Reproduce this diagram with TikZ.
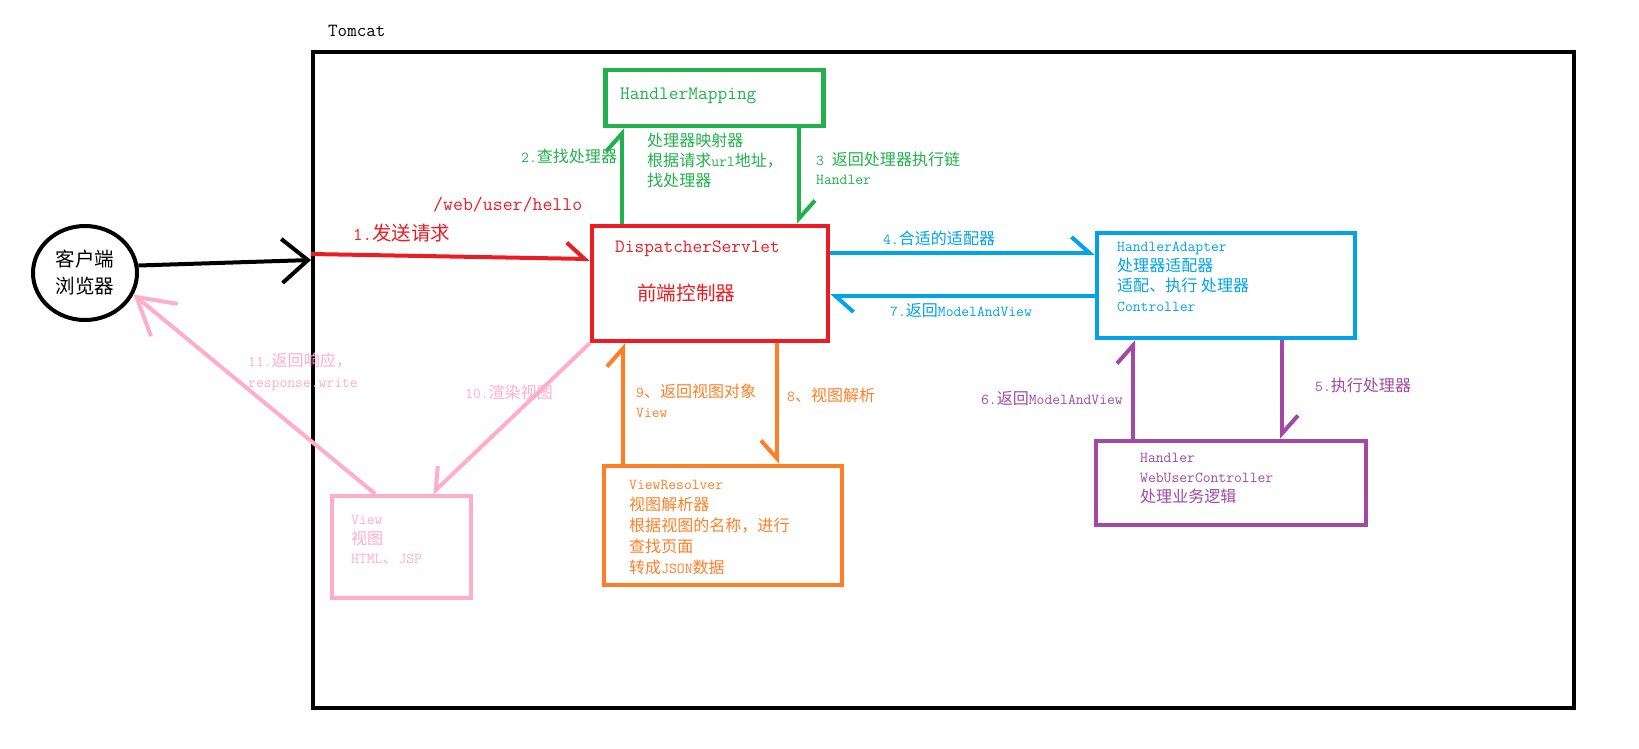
\documentclass[tikz,border=0pt]{standalone}
\usepackage{fontspec}
\newfontfamily\cjk[Scale=1.055]{Noto Sans CJK SC}
\usetikzlibrary{arrows.meta,shapes.geometric}
\newcommand\setfs[2]{\fontsize{#1}{#2}\selectfont}
\definecolor{mred}{HTML}{ED1C24}
\definecolor{mgreen}{HTML}{22B14C}
\definecolor{mblue}{HTML}{00A2E8}
\definecolor{mpurple}{HTML}{A349A4}
\definecolor{morange}{HTML}{FF7F27}
\definecolor{mpink}{HTML}{FFAEC9}
\tikzset{
  box/.style={draw=#1, line width=4.5pt, inner sep=0pt},
  lbl/.style={anchor=west, inner sep=0pt, align=left, text=#1, font=\ttfamily\setfs{15.2}{20}},
  flow/.style={draw=#1, line width=4pt},
  half/.style={-{Straight Barb[harpoon, length=18pt, width=32pt]}},
  halfswap/.style={-{Straight Barb[harpoon, swap, length=18pt, width=32pt]}},
  full/.style={-{Straight Barb[length=#1]}},
}
\begin{document}
\begin{tikzpicture}[x=1pt, y=-1pt]
    \useasboundingbox (0,0) rectangle (1639,748);

    % Tomcat container
    \node[box=black, line width=4pt, minimum width=1261pt, minimum height=656pt] (tomcat) at (943.5,380) {};
    \node[lbl=black, font=\ttfamily\setfs{18.5}{20}] (tomcatlbl) at (328,31) {Tomcat};

    % client
    \node[draw, ellipse, line width=4pt, minimum width=104pt, minimum height=94pt, inner sep=0pt,
          align=center, font=\cjk\setfs{18.5}{27}] (client) at (85,273) {客户端\\浏览器};

    % components
    \node[box=mred, minimum width=236pt, minimum height=115pt] (ds) at (710,283.5) {};
    \node[box=mgreen, minimum width=218pt, minimum height=56pt] (hm) at (714.5,98) {};
    \node[box=mblue, minimum width=258pt, minimum height=105pt] (ha) at (1226,285.5) {};
    \node[box=mpurple, minimum width=270pt, minimum height=84pt] (handler) at (1231,483) {};
    \node[box=morange, minimum width=238pt, minimum height=119pt] (vr) at (723,525.5) {};
    \node[box=mpink, minimum width=139pt, minimum height=102pt] (view) at (401.5,547) {};

    % box texts
    \node[lbl=mred, font=\ttfamily\setfs{18.8}{20}] (dstxt) at (615,249) {DispatcherServlet};
    \node[lbl=mred, font=\cjk\setfs{18.6}{20}] (dszh) at (637,293) {前端控制器};
    \node[lbl=mgreen, font=\ttfamily\setfs{18.9}{20}] (hmtxt) at (620,96) {HandlerMapping};
    \node[lbl=mblue] (hatxt) at (1117,277) {HandlerAdapter\\{\cjk 处理器适配器}\\{\cjk 适配、执行 处理器}\\Controller};
    \node[lbl=mpurple] (htxt) at (1140,478) {Handler\\WebUserController\\{\cjk 处理业务逻辑}};
    \node[lbl=morange, font=\ttfamily\setfs{15.2}{20.8}] (vrtxt) at (629,527.5) {ViewResolver\\{\cjk 视图解析器}\\{\cjk 根据视图的名称，进行}\\{\cjk 查找页面}\\{\cjk 转成}JSON{\cjk 数据}};
    \node[lbl=mpink, font=\ttfamily\setfs{15.2}{19.5}] (viewtxt) at (351,540) {View\\{\cjk 视图}\\HTML{\cjk 、}JSP};

    % request
    \draw[flow=black, full={26pt, width=44pt}] (client.8) -- (tomcat.west |- 0,260);
    \draw[flow=mred, half] (tomcat.west |- 0,254) -- (ds.west |- 0,259);
    \node[lbl=mred, font=\ttfamily\setfs{19.3}{20}] (url) at (433,205) {/web/user/hello};
    \node[lbl=mred, font=\ttfamily\setfs{18.5}{20}] (send) at (353,233) {1.{\cjk 发送请求}};

    % handler mapping
    \draw[flow=mgreen, half] (ds.north -| 622,0) -- (hm.south -| 622,0);
    \draw[flow=mgreen, half] (hm.south -| 799,0) -- (ds.north -| 799,0);
    \node[lbl=mgreen] (find) at (521,156) {2.{\cjk 查找处理器}};
    \node[lbl=mgreen, font=\cjk\setfs{15.2}{20}] (hmnote) at (647,160) {处理器映射器\\根据请求{\ttfamily url}地址，\\找处理器};
    \node[lbl=mgreen, font=\ttfamily\setfs{15.2}{19}] (chain) at (816,168.5) {3 {\cjk 返回处理器执行链}\\Handler};

    % handler adapter
    \draw[flow=mblue, half] (ds.east |- 0,253) -- (ha.west |- 0,253);
    \draw[flow=mblue, half] (ha.west |- 0,296) -- (ds.east |- 0,296);
    \node[lbl=mblue] (adapt) at (883,238) {4.{\cjk 合适的适配器}};
    \node[lbl=mblue] (mav7) at (890,311) {7.{\cjk 返回}ModelAndView};

    % handler
    \draw[flow=mpurple, half] (ha.south -| 1282,0) -- (handler.north -| 1282,0);
    \draw[flow=mpurple, half] (handler.north -| 1133,0) -- (ha.south -| 1133,0);
    \node[lbl=mpurple] (exec) at (1315,385) {5.{\cjk 执行处理器}};
    \node[lbl=mpurple, anchor=east] (mav6) at (1123,399) {6.{\cjk 返回}ModelAndView};

    % view resolver
    \draw[flow=morange, halfswap] (ds.south -| 777,0) -- (vr.north -| 777,0);
    \draw[flow=morange, half] (vr.north -| 623,0) -- (ds.south -| 623,0);
    \node[lbl=morange] (resolve) at (787,395) {8{\cjk 、视图解析}};
    \node[lbl=morange] (viewobj) at (636,401) {9{\cjk 、返回视图对象}\\View};

    % render and response
    \draw[flow=mpink, halfswap] (ds.south west) -- (view.north -| 432,0);
    \draw[flow=mpink, full={36pt, width=42pt}] (view.north -| 375,0) -- (client.-24);
    \node[lbl=mpink] (render) at (465,392) {10.{\cjk 渲染视图}};
    \node[lbl=mpink, font=\ttfamily\setfs{15.2}{21}] (resp) at (248,371.5) {11.{\cjk 返回响应，}\\response.write};
\end{tikzpicture}
\end{document}
